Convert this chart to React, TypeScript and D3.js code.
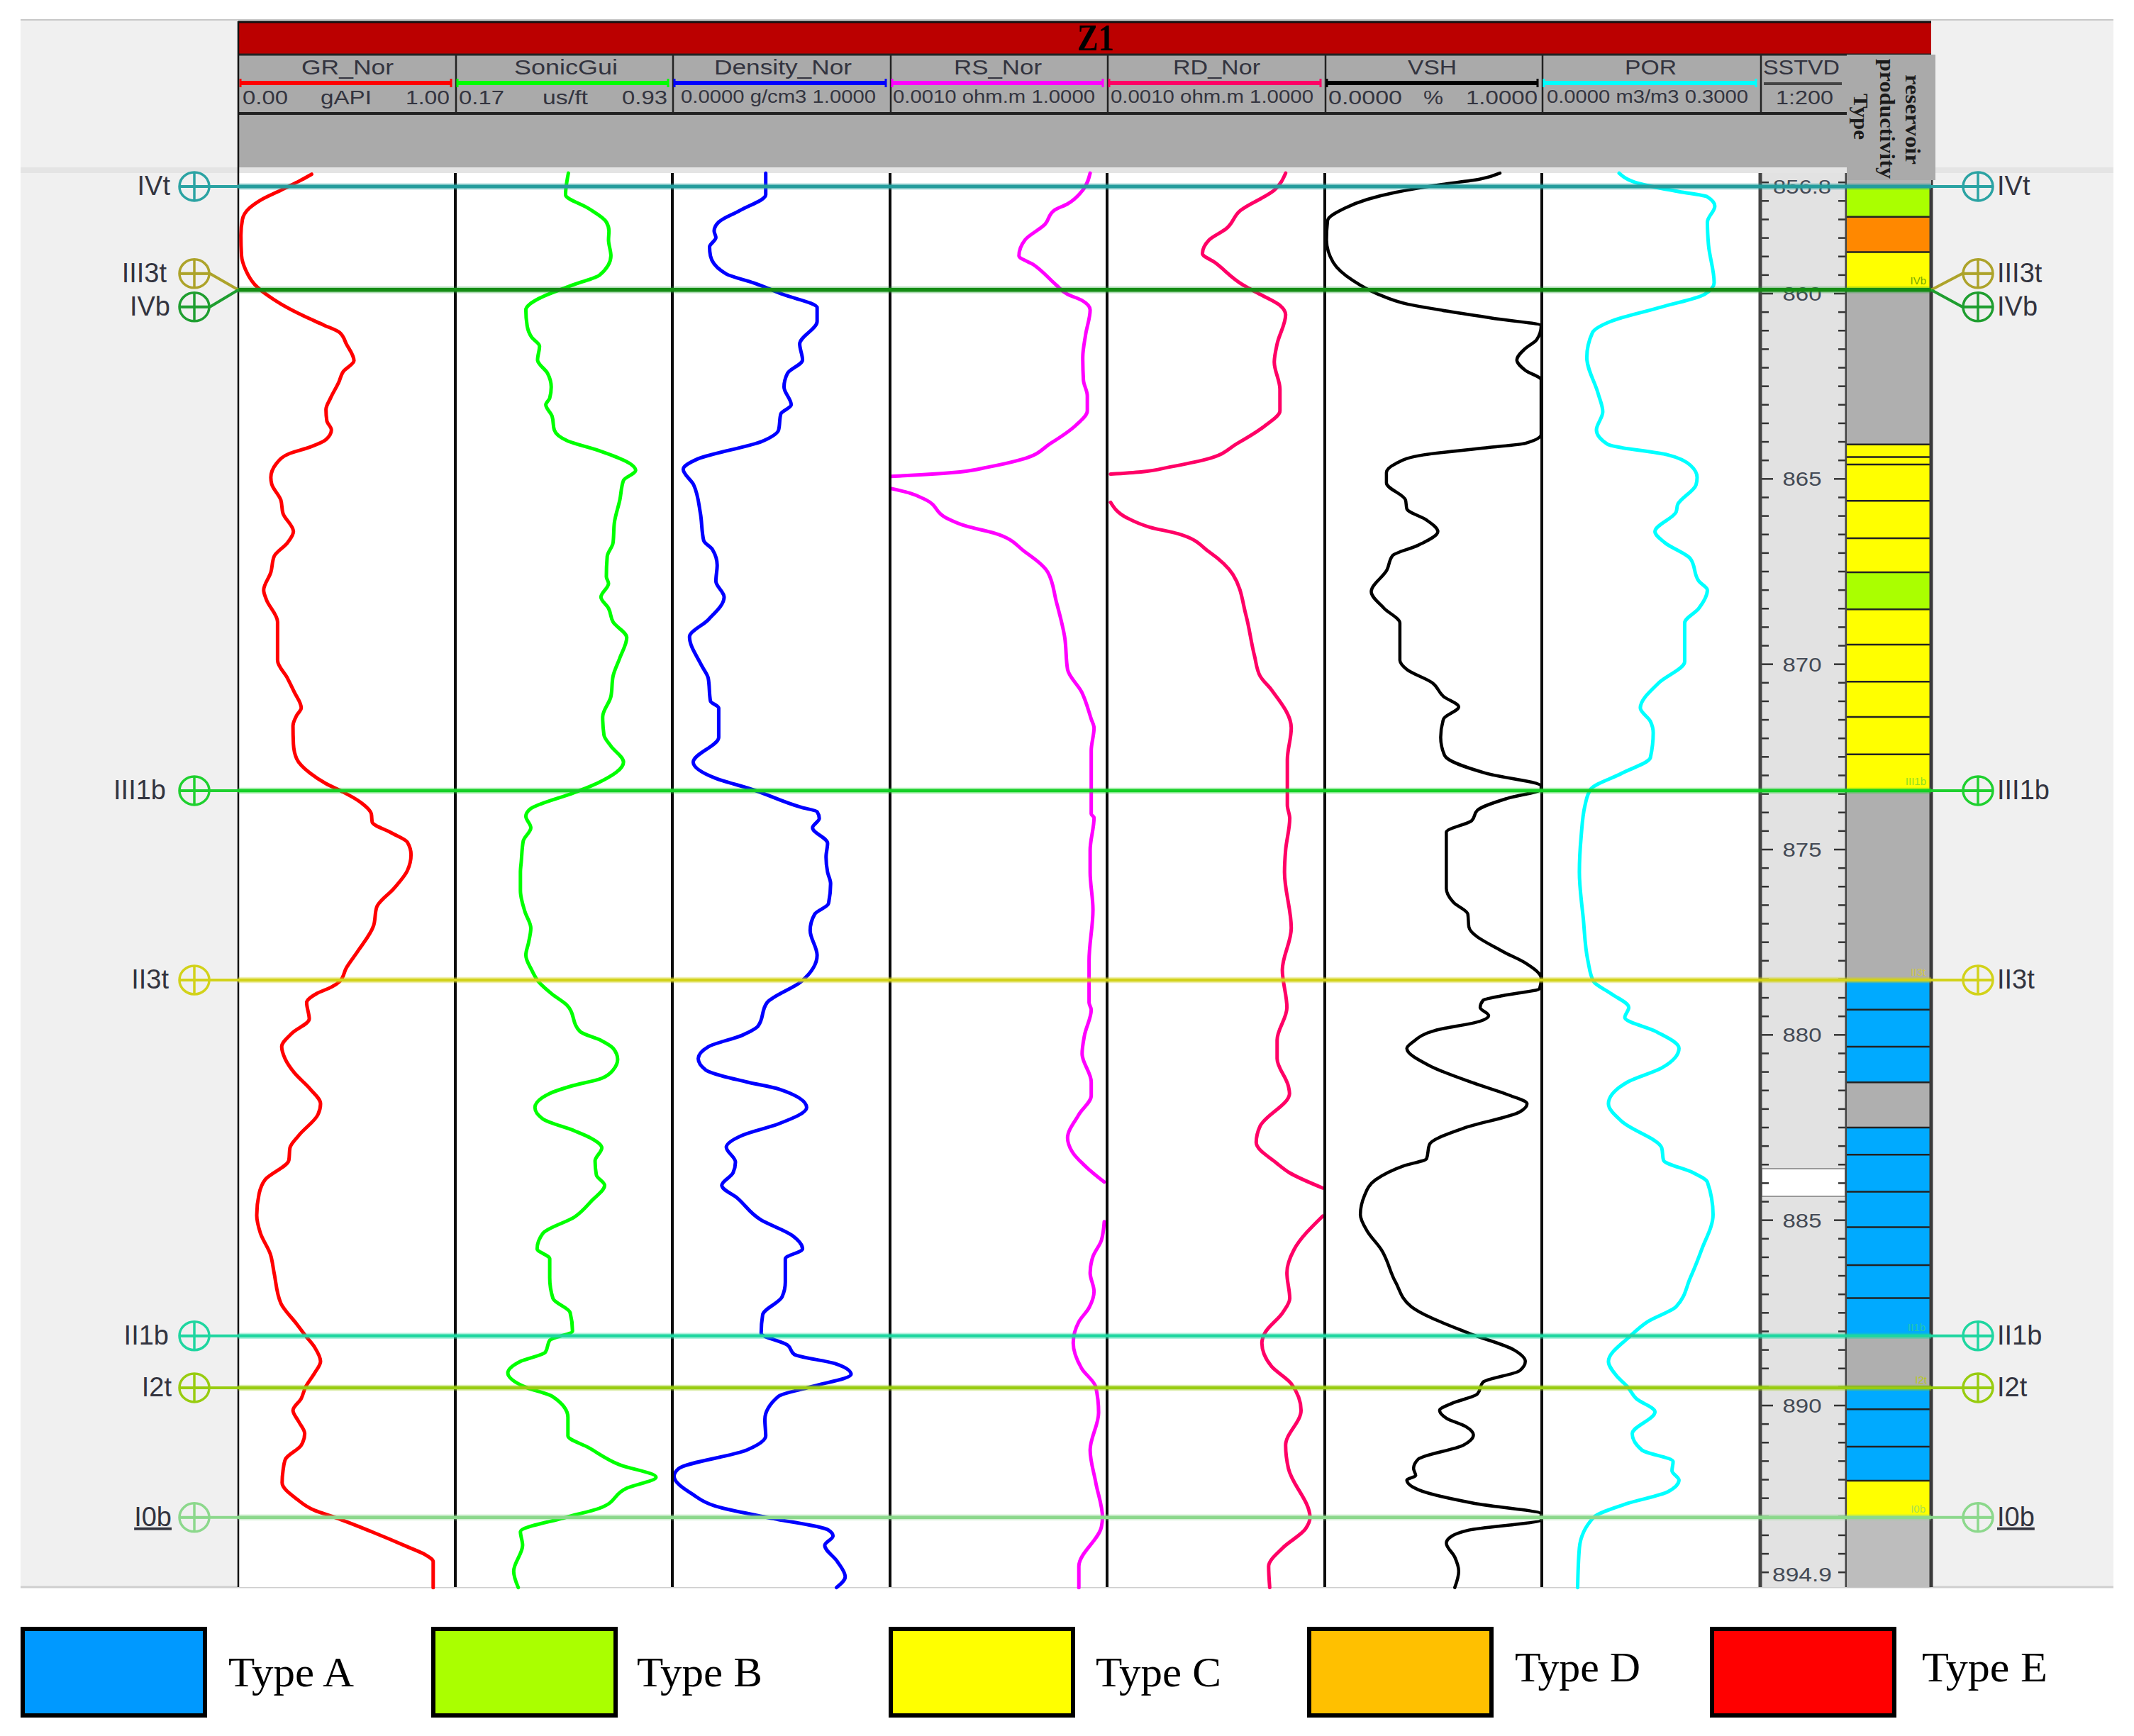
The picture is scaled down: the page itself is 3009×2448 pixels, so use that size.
import React from "react";
import * as d3 from "d3";

// depth (m), normalised track value (0-1)
const grLog = [[856.78,.338],[856.97,.279],[857.21,.196],[857.48,.102],[857.7,.05],[858,.019],[858.43,.012],[858.98,.015],[859.35,.033],[859.75,.075],[860.04,.133],[860.28,.196],[860.6,.3],[860.85,.394],[861.05,.467],[861.36,.498],[861.81,.533],[862.11,.483],[862.39,.463],[862.82,.425],[863.13,.404],[863.43,.408],[863.68,.429],[863.94,.404],[864.14,.331],[864.31,.238],[864.59,.175],[864.96,.15],[865.14,.154],[865.57,.196],[865.93,.206],[866.42,.254],[866.72,.227],[867.09,.165],[867.52,.15],[868,.117],[868.25,.129],[868.86,.181],[869.89,.181],[870.38,.227],[870.75,.258],[871.18,.29],[871.38,.269],[871.66,.252],[872.15,.254],[872.55,.269],[872.94,.331],[873.22,.404],[873.43,.477],[873.67,.55],[874.04,.613],[874.26,.617],[874.55,.706],[874.8,.779],[875.14,.796],[875.57,.779],[876.05,.717],[876.55,.638],[877.06,.623],[877.75,.55],[878.19,.498],[878.56,.467],[878.71,.429],[878.88,.363],[879.13,.315],[879.57,.327],[879.95,.248],[880.32,.2],[880.66,.217],[881.02,.258],[881.46,.331],[881.86,.379],[882.15,.367],[882.71,.279],[883.05,.238],[883.38,.233],[883.91,.123],[884.28,.096],[884.87,.085],[885.35,.102],[885.92,.148],[886.42,.165],[887.24,.196],[887.8,.269],[888.12,.31],[888.43,.352],[888.81,.379],[889.12,.352],[889.5,.31],[889.81,.29],[890.13,.252],[890.44,.279],[890.76,.306],[891.07,.29],[891.45,.217],[891.76,.206],[892.08,.202],[892.52,.269],[892.83,.352],[893.02,.446],[893.4,.613],[893.81,.779],[894.03,.863],[894.21,.898],[894.91,.898]];
const sonicLog = [[856.75,.521],[857.33,.508],[857.7,.613],[858.07,.696],[858.31,.708],[858.55,.706],[858.98,.717],[859.5,.665],[859.75,.55],[859.93,.467],[860.14,.383],[860.44,.325],[860.87,.331],[861.18,.352],[861.42,.388],[861.79,.379],[862.15,.425],[862.52,.442],[862.82,.435],[863,.417],[863.31,.446],[863.68,.456],[863.98,.519],[864.22,.654],[864.77,.831],[865.04,.775],[865.57,.758],[866.18,.733],[866.72,.727],[867.09,.7],[867.64,.696],[867.82,.706],[868.19,.671],[868.49,.706],[868.86,.727],[869.28,.79],[869.83,.758],[870.32,.727],[870.87,.717],[871.42,.679],[871.91,.685],[872.21,.717],[872.64,.775],[873.21,.654],[873.46,.55],[873.92,.342],[874.1,.325],[874.41,.348],[874.77,.313],[875.32,.304],[875.61,.3],[876.11,.3],[876.68,.321],[877.12,.348],[877.5,.338],[877.85,.325],[878.25,.352],[878.56,.383],[878.9,.446],[879.19,.513],[879.91,.575],[880.16,.675],[880.36,.727],[880.66,.748],[880.95,.727],[881.17,.675],[881.39,.529],[881.58,.435],[881.96,.367],[882.27,.404],[882.59,.55],[882.78,.623],[883.05,.675],[883.4,.644],[883.78,.65],[884.06,.688],[884.47,.629],[884.91,.55],[885.35,.404],[885.77,.377],[886.04,.435],[886.55,.435],[887.11,.45],[887.49,.529],[887.99,.54],[888.24,.435],[888.56,.415],[888.81,.3],[889.12,.242],[889.5,.321],[889.75,.446],[890.32,.519],[890.82,.519],[891.13,.613],[891.6,.758],[891.93,.925],[892.23,.79],[892.77,.665],[893.02,.508],[893.4,.3],[893.77,.31],[894.47,.269],[894.91,.29]];
const densityLog = [[856.75,.429],[857.33,.429],[857.76,.31],[858.07,.213],[858.31,.192],[858.49,.2],[858.74,.171],[858.98,.175],[859.47,.248],[859.71,.373],[860.02,.508],[860.38,.665],[860.75,.665],[861.36,.585],[861.79,.598],[862.15,.529],[862.52,.513],[863,.546],[863.25,.498],[863.68,.488],[863.98,.415],[864.47,.113],[864.74,.05],[865.16,.098],[865.93,.129],[866.66,.144],[866.91,.185],[867.33,.206],[867.76,.2],[868.19,.238],[868.8,.165],[869.26,.079],[870.02,.133],[870.38,.165],[870.99,.175],[871.18,.213],[871.97,.213],[872.64,.096],[873.07,.196],[873.37,.363],[873.86,.592],[873.98,.665],[874.16,.675],[874.41,.644],[874.83,.713],[875.2,.706],[875.61,.713],[875.92,.727],[876.46,.717],[876.74,.654],[877.18,.633],[877.85,.665],[878.56,.592],[879.13,.435],[879.76,.394],[880.01,.321],[880.32,.165],[880.64,.119],[880.95,.154],[881.27,.342],[881.46,.488],[881.96,.617],[882.4,.488],[882.71,.321],[883.03,.248],[883.43,.29],[883.72,.279],[884.06,.227],[884.41,.3],[884.98,.404],[885.41,.55],[885.77,.598],[886.04,.519],[886.67,.519],[887.07,.504],[887.55,.415],[888.05,.408],[888.37,.529],[888.62,.56],[888.87,.748],[889.16,.821],[889.5,.633],[889.75,.488],[890.38,.425],[890.82,.429],[891.2,.342],[891.7,.029],[891.91,.008],[892.39,.092],[892.71,.196],[893.02,.435],[893.36,.717],[893.52,.738],[893.77,.7],[894.21,.758],[894.62,.794],[894.91,.754]];
const rsLog = [[856.75,.922],[857.21,.888],[857.58,.818],[857.76,.755],[858.13,.714],[858.55,.622],[858.98,.594],[859.22,.661],[859.77,.766],[860.02,.818],[860.18,.883],[860.44,.922],[861.11,.901],[861.72,.888],[862.33,.891],[862.76,.909],[863.16,.909],[863.55,.857],[864.04,.74],[864.47,.609],[864.68,.453],[864.81,.323],[864.89,.141],[864.93,.005],[865.1,null],[865.26,.005],[865.38,.089],[865.57,.167],[866.05,.258],[866.27,.349],[866.46,.479],[866.97,.622],[867.52,.727],[868.31,.766],[869.28,.805],[870.14,.818],[870.75,.883],[871.48,.927],[871.72,.94],[872.33,.927],[874.04,.927],[874.14,.94],[875.02,.922],[875.61,.922],[876.62,.935],[878,.917],[879.13,.917],[879.32,.927],[880.01,.896],[880.51,.885],[881.27,.927],[881.64,.927],[882.15,.87],[882.78,.818],[883.15,.839],[883.66,.922],[883.97,.987],[884.5,null],[885.04,.987],[885.54,.974],[885.98,.935],[886.42,.922],[886.92,.94],[887.36,.917],[887.74,.87],[888.31,.844],[889,.883],[889.5,.948],[890.19,.961],[891.2,.922],[892.08,.948],[893.02,.979],[893.27,.974],[894.34,.87],[894.91,.87]];
const rdLog = [[856.75,.82],[857.21,.768],[857.76,.612],[858.25,.547],[858.55,.469],[858.92,.438],[859.16,.495],[859.77,.625],[860.02,.703],[860.32,.794],[860.57,.82],[861.36,.781],[861.85,.768],[862.58,.794],[863.16,.794],[863.55,.729],[864.04,.599],[864.47,.456],[864.68,.286],[864.81,.156],[864.87,.016],[865.2,null],[865.63,.016],[866.05,.091],[866.3,.195],[866.48,.326],[866.97,.469],[867.58,.578],[868.68,.638],[869.77,.677],[870.32,.703],[870.69,.755],[871.72,.846],[872.58,.828],[873.8,.828],[874.16,.839],[875.02,.82],[875.61,.815],[877.12,.846],[878.25,.805],[879.26,.826],[880.14,.781],[880.64,.781],[881.39,.833],[881.58,.838],[882.46,.703],[882.9,.685],[883.47,.781],[883.72,.838],[884.13,.99],[884.5,null],[884.89,.99],[885.79,.859],[886.42,.826],[887.11,.839],[887.49,.807],[888.05,.724],[888.31,.711],[888.94,.755],[889.41,.846],[890.13,.891],[891.07,.82],[891.7,.833],[893.02,.932],[893.33,.911],[893.84,.807],[894.34,.742],[894.91,.747]];
const vshLog = [[856.75,.807],[856.91,.716],[857.07,.521],[857.27,.326],[857.46,.195],[857.7,.091],[858.03,.013],[858.55,.008],[859.16,.039],[859.65,.13],[860.02,.247],[860.28,.378],[860.47,.56],[860.66,.768],[860.87,.997],[861.24,.977],[861.48,.924],[861.79,.885],[862.07,.924],[862.33,.997],[863.8,.997],[864.04,.924],[864.16,.742],[864.35,.456],[864.59,.326],[864.83,.284],[865.11,.284],[865.57,.372],[865.81,.378],[866.11,.469],[866.42,.521],[866.79,.43],[867.07,.312],[867.46,.286],[868.04,.214],[868.49,.273],[868.89,.346],[869.89,.346],[870.14,.378],[870.5,.495],[870.87,.547],[871.15,.617],[871.48,.547],[871.97,.534],[872.46,.552],[872.94,.742],[873.29,.997],[873.37,.997],[873.61,.846],[873.94,.703],[874.22,.677],[874.53,.56],[875.61,.56],[876.05,.56],[876.43,.594],[876.74,.659],[877.09,.664],[877.75,.82],[878.06,.924],[878.48,.997],[878.75,.99],[878.94,.82],[879.07,.729],[879.26,.716],[879.48,.755],[879.63,.716],[879.88,.508],[880.2,.404],[880.36,.378],[880.83,.482],[881.36,.716],[881.62,.846],[881.86,.932],[882.08,.898],[882.52,.638],[882.96,.482],[883.34,.469],[883.53,.365],[883.91,.234],[884.35,.182],[884.85,.164],[885.29,.195],[885.79,.26],[886.67,.326],[887.33,.398],[888.05,.664],[888.5,.872],[888.81,.924],[889.06,.898],[889.37,.729],[889.69,.703],[889.94,.586],[890.13,.529],[890.34,.56],[890.57,.651],[890.79,.685],[891.07,.638],[891.45,.43],[891.7,.409],[891.89,.419],[892.01,.378],[892.27,.43],[892.64,.69],[892.93,.997],[893.08,.997],[893.36,.664],[893.52,.586],[893.71,.56],[894.09,.599],[894.47,.617],[894.91,.599]];
const porLog = [[856.75,.354],[857.03,.445],[857.25,.628],[857.39,.758],[857.64,.792],[858.07,.758],[858.68,.763],[859.71,.789],[860.02,.745],[860.36,.549],[860.75,.315],[861.05,.232],[861.72,.206],[862.7,.258],[863.19,.279],[863.68,.25],[864.07,.302],[864.35,.576],[864.63,.68],[864.96,.711],[865.16,.706],[865.69,.622],[865.89,.615],[866.42,.518],[866.72,.563],[867.15,.68],[867.76,.719],[868,.758],[868.49,.719],[868.89,.654],[869.93,.654],[870.5,.536],[871.18,.451],[871.54,.497],[871.85,.51],[872.52,.497],[872.94,.367],[873.37,.224],[873.8,.198],[874.65,.18],[875.61,.172],[876.87,.19],[878,.211],[878.56,.237],[878.88,.315],[879.26,.398],[879.53,.38],[879.91,.523],[880.36,.628],[880.89,.549],[881.27,.393],[881.86,.305],[882.34,.367],[883.05,.549],[883.38,.557],[883.72,.693],[883.97,.758],[884.85,.784],[885.79,.732],[886.55,.68],[887.33,.615],[887.74,.484],[888.12,.406],[888.81,.305],[889.19,.341],[889.5,.393],[889.81,.432],[890.17,.518],[890.76,.414],[891.2,.458],[891.51,.601],[891.76,.596],[892.01,.628],[892.33,.576],[892.64,.393],[893.02,.237],[893.84,.172],[894.91,.164]];

const trackEdges = [336, 642, 948, 1255, 1561, 1868, 2174, 2482];
const logNames = ["GR_Nor", "SonicGui", "Density_Nor", "RS_Nor", "RD_Nor", "VSH", "POR"];
const logColors = ["#ff0000", "#00ff00", "#0000ff", "#ff00ff", "#ff0066", "#000000", "#00ffff"];
const logData = [grLog, sonicLog, densityLog, rsLog, rdLog, vshLog, porLog];
const logTitleSpans = [[425, 130], [725, 146], [1007, 194], [1345, 124], [1654, 123], [1985, 69], [2291, 73]];
const scaleLabels = [
  [["0.00", 342, 64], ["gAPI", 452, 72], ["1.00", 572, 62]],
  [["0.17", 647, 64], ["us/ft", 765, 64], ["0.93", 877, 64]],
  [["0.0000 g/cm3 1.0000", 960, 275]],
  [["0.0010 ohm.m 1.0000", 1259, 285]],
  [["0.0010 ohm.m 1.0000", 1566, 286]],
  [["0.0000", 1873, 104], ["%", 2007, 28], ["1.0000", 2067, 101]],
  [["0.0000 m3/m3 0.3000", 2181, 284]],
];

const wellNames = ["IVt", "III3t", "IVb", "III1b", "II3t", "II1b", "I2t", "I0b"];
const wellDepths = [857.11, 859.9, 859.9, 873.41, 878.52, 888.12, 889.52, 893.02];
const wellColors = ["#2ba3a3", "#ada32a", "#1f9e30", "#1fd02f", "#d2d21a", "#1fd6a0", "#98cc10", "#8cd88c"];
const wellCores = ["#249c9c", "#ada32a", "#148c14", "#14d026", "#d2d21a", "#1fd6a0", "#98cc10", "#8cd88c"];
const wellMarkerOffset = [0, -23, 24, 0, 0, 0, 0, 0];
const wellLeftEnds = [240, 235, 240, 234, 238, 238, 242, 242];

const bandTops = [857.13, 857.93, 858.88, 859.91, 864.07, 864.41, 864.61, 865.59, 866.6, 867.52, 868.52, 869.47, 870.47, 871.42, 872.43, 873.41, 878.51, 879.32, 880.32, 881.28, 882.5, 883.23, 884.23, 885.19, 886.21, 887.1, 888.12, 889.5, 890.1, 891.11, 892.03, 893.02];
const bandTypes = ["B", "D", "C", "N", "C", "C", "C", "C", "C", "B", "C", "C", "C", "C", "C", "N", "A", "A", "A", "N", "A", "A", "A", "A", "A", "A", "N", "A", "A", "A", "C", "M"];
const bandEnd = 894.91;
const bandColors = { A: "#00aaff", B: "#aaff00", C: "#ffff00", D: "#ff8800", N: "#afafaf", M: "#bdbdbd" };
const bandMarks = [["IVb", 2716, 401, "#77a800"], ["III1b", 2716, 1107, "#8fe020"], ["II3t", 2715, 1376, "#cfc848"], ["II1b", 2715, 1877, "#20c8b0"], ["I2t", 2717, 1951, "#b8c820"], ["I0b", 2715, 2133, "#a8e050"]];

const legendNames = ["Type A", "Type B", "Type C", "Type D", "Type E"];
const legendColors = ["#0099ff", "#aaff00", "#ffff00", "#ffc000", "#ff0000"];
const legendBoxX = [29, 608, 1253, 1843, 2411];
const legendTextX = [322, 898, 1545, 2136, 2710];
const legendBaseline = [2378, 2378, 2378, 2371, 2371];

const majorDepths = [860, 865, 870, 875, 880, 885, 890];
const SANS = "'Liberation Sans', Arial, sans-serif";
const SERIF = "'Liberation Serif', 'Times New Roman', serif";
const LABEL = "#33343f";

const y = d3.scaleLinear().domain([860, 890]).range([414, 1982]);

export default function App() {
  const top = 244, bottom = 2238, left = 336, depthL = 2482, depthR = 2604, right = 2723;
  const minorTicks = d3.range(857, 894.6, 0.5);
  return (
    <svg width={3009} height={2448} viewBox="0 0 3009 2448" style={{ position: "absolute", left: 0, top: 0, display: "block", background: "#fff" }}>
      <rect x={29} y={28} width={2951} height={2210} fill="#f0f0f0" />
      <line x1={29} x2={2980} y1={28} y2={28} stroke="#c8c8c8" strokeWidth={2} />
      <line x1={29} x2={2980} y1={2238} y2={2238} stroke="#cfcfcf" strokeWidth={3} />
      <rect x={29} y={236} width={2951} height={8} fill="#e4e4e4" />

      {/* header */}
      <rect x={336} y={77} width={2269} height={159} fill="#aaaaaa" />
      <rect x={336} y={30} width={2387} height={47} fill="#bb0000" />
      <line x1={336} x2={2723} y1={31} y2={31} stroke="#111" strokeWidth={3} />
      <line x1={336} x2={2723} y1={77} y2={77} stroke="#222" strokeWidth={3} />
      <line x1={336} x2={2605} y1={160} y2={160} stroke="#222" strokeWidth={4} />
      <text x={1545} y={71} textAnchor="middle" fontFamily={SERIF} fontWeight="bold" fontSize={52} fill="#000" textLength={52} lengthAdjust="spacingAndGlyphs">Z1</text>
      {trackEdges.slice(1).concat([2605]).map((xe) => (
        <line key={xe} x1={xe + 1} x2={xe + 1} y1={77} y2={160} stroke="#222" strokeWidth={2.5} />
      ))}
      {logNames.map((name, i) => {
        const x0 = trackEdges[i], x1 = trackEdges[i + 1];
        const [tx, tl] = logTitleSpans[i];
        return (
          <g key={name}>
            <text x={tx} y={105} fontFamily={SANS} fontSize={30} fill={LABEL} textLength={tl} lengthAdjust="spacingAndGlyphs">{name}</text>
            <line x1={x0 + 3} x2={x1 - 6} y1={117} y2={117} stroke={logColors[i]} strokeWidth={6} />
            <line x1={x0 + 3} x2={x0 + 3} y1={111} y2={123} stroke={logColors[i]} strokeWidth={3} />
            <line x1={x1 - 6} x2={x1 - 6} y1={111} y2={123} stroke={logColors[i]} strokeWidth={3} />
            {scaleLabels[i].map(([t, sx, sl]) => (
              <text key={t + sx} x={sx} y={scaleLabels[i].length === 1 ? 145 : 147} fontFamily={SANS} fontSize={scaleLabels[i].length === 1 ? 25 : 28} fill={LABEL} textLength={sl} lengthAdjust="spacingAndGlyphs">{t}</text>
            ))}
          </g>
        );
      })}
      <text x={2486} y={105} fontFamily={SANS} fontSize={30} fill={LABEL} textLength={108} lengthAdjust="spacingAndGlyphs">SSTVD</text>
      <line x1={2487} x2={2597} y1={118} y2={118} stroke="#444" strokeWidth={4} />
      <text x={2504} y={147} fontFamily={SANS} fontSize={28} fill={LABEL} textLength={81} lengthAdjust="spacingAndGlyphs">1:200</text>

      {/* log area */}
      <rect x={left} y={top} width={depthL - left} height={bottom - top} fill="#ffffff" />
      <rect x={depthL} y={top} width={depthR - depthL} height={bottom - top} fill="#e2e2e2" />
      <rect x={depthL + 2} y={1648} width={depthR - depthL - 4} height={39} fill="#ffffff" stroke="#999" strokeWidth={2} />

      {logData.map((data, i) => {
        const x = d3.scaleLinear().domain([0, 1]).range([trackEdges[i], trackEdges[i + 1]]);
        const line = d3.line().defined((d) => d[1] !== null).x((d) => x(d[1])).y((d) => y(d[0])).curve(d3.curveMonotoneY);
        return <path key={i} d={line(data)} fill="none" stroke={logColors[i]} strokeWidth={i === 5 ? 4.5 : 5} strokeLinejoin="round" strokeLinecap="round" />;
      })}

      {/* track dividers */}
      <line x1={left} x2={left} y1={30} y2={bottom} stroke="#111" strokeWidth={2.5} />
      {trackEdges.slice(1, 7).map((xe) => (
        <line key={xe} x1={xe} x2={xe} y1={top} y2={bottom} stroke="#0a0a0a" strokeWidth={4} />
      ))}

      {/* depth track */}
      {minorTicks.map((d) => {
        const major = majorDepths.includes(d);
        const len = major ? 18 : 12;
        return (
          <g key={d}>
            <line x1={depthL} x2={depthL + len} y1={y(d)} y2={y(d)} stroke="#333" strokeWidth={2.5} />
            <line x1={depthR} x2={depthR - len} y1={y(d)} y2={y(d)} stroke="#333" strokeWidth={2.5} />
          </g>
        );
      })}
      {majorDepths.map((d) => (
        <text key={d} x={2541} y={y(d) + 10} textAnchor="middle" fontFamily={SANS} fontSize={28} fill="#444a55" textLength={55} lengthAdjust="spacingAndGlyphs">{d}</text>
      ))}
      <text x={2541} y={273} textAnchor="middle" fontFamily={SANS} fontSize={28} fill="#444a55" textLength={82} lengthAdjust="spacingAndGlyphs">856.8</text>
      <text x={2541} y={2230} textAnchor="middle" fontFamily={SANS} fontSize={28} fill="#444a55" textLength={84} lengthAdjust="spacingAndGlyphs">894.9</text>
      <line x1={depthL} x2={depthL} y1={top} y2={bottom} stroke="#444" strokeWidth={5} />
      <line x1={depthR} x2={depthR} y1={top} y2={bottom} stroke="#444" strokeWidth={5} />

      {/* reservoir productivity column */}
      {bandTypes.map((t, i) => {
        const y0 = y(bandTops[i]);
        const y1 = i + 1 < bandTops.length ? y(bandTops[i + 1]) : y(bandEnd);
        return <rect key={i} x={depthR} y={y0} width={right - depthR} height={y1 - y0} fill={bandColors[t]} />;
      })}
      {bandTops.slice(1, -1).map((d, i) => (
        <line key={i} x1={depthR} x2={right} y1={y(d)} y2={y(d)} stroke="#222" strokeWidth={2.5} />
      ))}
      <line x1={right} x2={right} y1={top} y2={bottom} stroke="#3a3a3a" strokeWidth={5} />
      {bandMarks.map(([t, xe, yb, c]) => (
        <text key={t} x={xe} y={yb} textAnchor="end" fontFamily={SANS} fontSize={15} fill={c}>{t}</text>
      ))}

      {/* product header */}
      <rect x={depthR} y={77} width={125} height={177} fill="#aaaaaa" />
      <rect x={depthR} y={254} width={119} height={9} fill="#b4b4b4" />
      <g fontFamily={SERIF} fontWeight="bold" fontSize={30} fill="#1c1c1c">
        <text transform="translate(2687,105) rotate(90)" textLength={127} lengthAdjust="spacingAndGlyphs">reservoir</text>
        <text transform="translate(2651,83) rotate(90)" textLength={169} lengthAdjust="spacingAndGlyphs">productivity</text>
        <text transform="translate(2614,132) rotate(90)" textLength={65} lengthAdjust="spacingAndGlyphs">Type</text>
      </g>

      {/* well tops */}
      {wellNames.map((name, i) => {
        const wy = y(wellDepths[i]);
        const my = wy + wellMarkerOffset[i];
        const c = wellColors[i];
        const thick = i === 2 ? 5.5 : i === 0 ? 5 : 4.5;
        const underline = name === "I0b";
        return (
          <g key={name}>
            {i !== 1 && <line x1={left} x2={right} y1={wy} y2={wy} stroke={c} strokeOpacity={0.35} strokeWidth={thick + 4} />}
            {i !== 1 && <line x1={left} x2={right} y1={wy} y2={wy} stroke={wellCores[i]} strokeWidth={thick} />}
            <polyline points={`${left},${wy} 296,${my} 252,${my}`} fill="none" stroke={c} strokeWidth={4} />
            <polyline points={`${right},${wy} 2767,${my} 2811,${my}`} fill="none" stroke={c} strokeWidth={4} />
            {[274, 2789].map((cx) => (
              <g key={cx} fill="none" stroke={c} strokeWidth={3.5}>
                <ellipse cx={cx} cy={my} rx={21} ry={20} />
                <line x1={cx} x2={cx} y1={my - 20} y2={my + 20} />
                <line x1={cx - 21} x2={cx + 21} y1={my} y2={my} />
              </g>
            ))}
            <text x={wellLeftEnds[i]} y={my + 12} textAnchor="end" fontFamily={SANS} fontSize={38} fill={LABEL} textDecoration={underline ? "underline" : undefined}>{name}</text>
            <text x={2816} y={my + 12} fontFamily={SANS} fontSize={38} fill={LABEL} textDecoration={underline ? "underline" : undefined}>{name}</text>
          </g>
        );
      })}

      {/* legend */}
      {legendNames.map((name, i) => (
        <g key={name}>
          <rect x={legendBoxX[i]} y={2294} width={263} height={128} fill="#000" />
          <rect x={legendBoxX[i] + 6} y={2300} width={251} height={116} fill={legendColors[i]} />
          <text x={legendTextX[i]} y={legendBaseline[i]} fontFamily={SERIF} fontSize={60} fill="#000" textLength={177} lengthAdjust="spacingAndGlyphs">{name}</text>
        </g>
      ))}
    </svg>
  );
}
